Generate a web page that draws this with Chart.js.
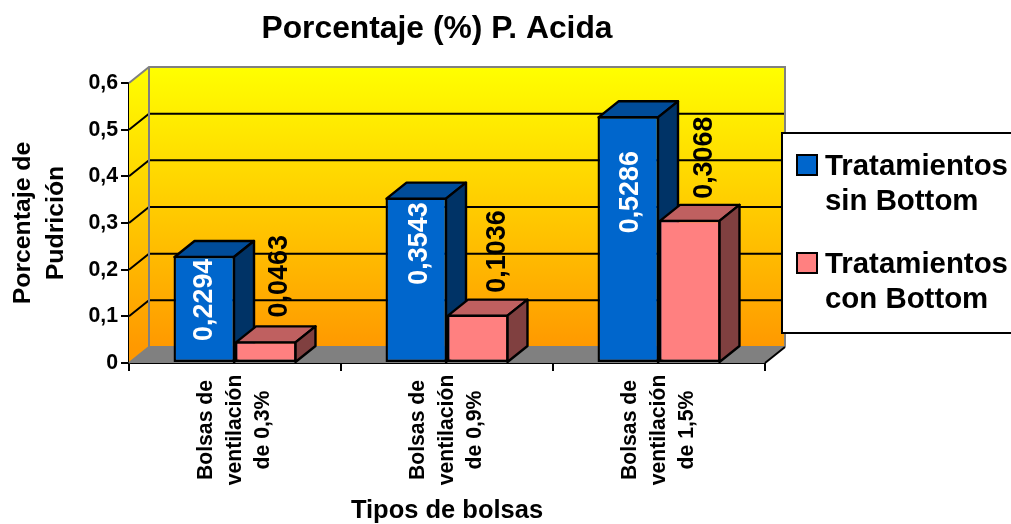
<!DOCTYPE html>
<html>
<head>
<meta charset="utf-8">
<style>
  html, body { margin: 0; padding: 0; background: #fff; }
  #wrap { width: 1011px; height: 524px; }
</style>
<script src="https://cdn.jsdelivr.net/npm/chart.js@4"></script>
</head>
<body>
<div id="wrap"><canvas id="chart"></canvas></div>
<script>
const chartTitle = 'Porcentaje (%) P. Acida';
const categories = [
  ['Bolsas de', 'ventilación', 'de 0,3%'],
  ['Bolsas de', 'ventilación', 'de 0,9%'],
  ['Bolsas de', 'ventilación', 'de 1,5%'],
];
const sinBottom = [0.2294, 0.3543, 0.5286];
const conBottom = [0.0463, 0.1036, 0.3068];
const sinLegend = ['Tratamientos', 'sin Bottom'];
const conLegend = ['Tratamientos', 'con Bottom'];
const yTitle = ['Porcentaje de', 'Pudrición'];
const xTitle = 'Tipos de bolsas';

const FONT = '"Liberation Sans", Arial, sans-serif';
const DX = 20;
const DY = 16;

// value labels were moved by hand in the original: px from the bar top and bar centre
const labelGap = [[-85, -87, -117], [24, 22, 21]];
const labelShift = [[0, 3, 2], [14, 20, 15]];

const fmt = v => String(v).replace('.', ',');

const scene3d = {
  id: 'scene3d',
  beforeDatasetsDraw(chart) {
    const { ctx, chartArea: a, scales: { y } } = chart;
    const grad = ctx.createLinearGradient(0, a.top - DY, 0, a.bottom - DY);
    grad.addColorStop(0, '#ffff00');
    grad.addColorStop(1, '#ff9900');

    ctx.save();
    // back wall + side wall
    ctx.fillStyle = grad;
    ctx.fillRect(a.left + DX, a.top - DY, a.right - a.left, a.bottom - a.top);
    ctx.beginPath();
    ctx.moveTo(a.left, a.top);
    ctx.lineTo(a.left + DX, a.top - DY);
    ctx.lineTo(a.left + DX, a.bottom - DY);
    ctx.lineTo(a.left, a.bottom);
    ctx.closePath();
    ctx.fill();

    // floor
    ctx.fillStyle = '#808080';
    ctx.beginPath();
    ctx.moveTo(a.left, a.bottom);
    ctx.lineTo(a.left + DX, a.bottom - DY);
    ctx.lineTo(a.right + DX, a.bottom - DY);
    ctx.lineTo(a.right, a.bottom);
    ctx.closePath();
    ctx.fill();

    // grid lines, one per tick
    ctx.strokeStyle = '#000';
    ctx.lineWidth = 2;
    y.ticks.forEach(t => {
      if (t.value === 0 || t.value >= 0.6) return;
      const py = y.getPixelForValue(t.value);
      ctx.beginPath();
      ctx.moveTo(a.left, py);
      ctx.lineTo(a.left + DX, py - DY);
      ctx.lineTo(a.right + DX, py - DY);
      ctx.stroke();
    });

    // wall outline
    ctx.strokeStyle = '#808080';
    ctx.beginPath();
    ctx.moveTo(a.left, a.top);
    ctx.lineTo(a.left + DX, a.top - DY);
    ctx.lineTo(a.right + DX, a.top - DY);
    ctx.lineTo(a.right + DX, a.bottom - DY);
    ctx.moveTo(a.left + DX, a.top - DY);
    ctx.lineTo(a.left + DX, a.bottom - DY);
    ctx.lineTo(a.right + DX, a.bottom - DY);
    ctx.moveTo(a.left, a.bottom);
    ctx.lineTo(a.left + DX, a.bottom - DY);
    ctx.stroke();

    // floor edge
    ctx.strokeStyle = '#000';
    ctx.beginPath();
    ctx.moveTo(a.right, a.bottom);
    ctx.lineTo(a.right + DX, a.bottom - DY);
    ctx.stroke();

    // bar tops and sides go under every front face
    ctx.lineWidth = 2.4;
    ctx.lineJoin = 'round';
    chart.data.datasets.forEach((ds, i) => {
      chart.getDatasetMeta(i).data.forEach(bar => {
        const l = bar.x - bar.width / 2 + 1;
        const r = bar.x + bar.width / 2 - 1;
        const t = bar.y + 1;
        const b = bar.base;
        ctx.fillStyle = ds.topColor;
        ctx.beginPath();
        ctx.moveTo(l, t);
        ctx.lineTo(l + DX, t - DY);
        ctx.lineTo(r + DX, t - DY);
        ctx.lineTo(r, t);
        ctx.closePath();
        ctx.fill();
        ctx.stroke();
        ctx.fillStyle = ds.sideColor;
        ctx.beginPath();
        ctx.moveTo(r, t);
        ctx.lineTo(r + DX, t - DY);
        ctx.lineTo(r + DX, b - DY);
        ctx.lineTo(r, b);
        ctx.closePath();
        ctx.fill();
        ctx.stroke();
      });
    });
    ctx.restore();
  },
  afterDraw(chart) {
    const { ctx, scales: { x } } = chart;
    ctx.save();
    ctx.fillStyle = '#000';

    // title
    ctx.font = `bold 31.8px ${FONT}`;
    ctx.textAlign = 'center';
    ctx.fillText(chartTitle, 437, 38);

    // category labels, each line centred on the same height
    ctx.font = `bold 21.2px ${FONT}`;
    ctx.textBaseline = 'middle';
    categories.forEach((lines, i) => {
      lines.forEach((s, k) => {
        ctx.save();
        ctx.translate(x.getPixelForValue(i) + (k - 1) * 28.5, 430);
        ctx.rotate(-Math.PI / 2);
        ctx.fillText(s, 0, 0);
        ctx.restore();
      });
    });

    // value labels
    ctx.font = `bold 26.9px ${FONT}`;
    ctx.textAlign = 'left';
    chart.data.datasets.forEach((ds, i) => {
      chart.getDatasetMeta(i).data.forEach((bar, j) => {
        ctx.save();
        ctx.translate(bar.x + labelShift[i][j], bar.y - labelGap[i][j]);
        ctx.rotate(-Math.PI / 2);
        ctx.fillStyle = i === 0 ? '#fff' : '#000';
        ctx.fillText(fmt(ds.data[j]), 0, 0);
        ctx.restore();
      });
    });

    // legend
    ctx.textBaseline = 'alphabetic';
    ctx.fillStyle = '#fff';
    ctx.strokeStyle = '#000';
    ctx.lineWidth = 2;
    ctx.fillRect(782, 133, 229, 200);
    ctx.strokeRect(782, 133, 240, 200);
    ctx.font = `bold 29.4px ${FONT}`;
    [[sinLegend, 0], [conLegend, 1]].forEach(([lines, i]) => {
      const ds = chart.data.datasets[i];
      const top = 155 + i * 98;
      ctx.fillStyle = ds.backgroundColor;
      ctx.fillRect(797, top, 20, 20);
      ctx.strokeRect(797, top, 20, 20);
      ctx.fillStyle = '#000';
      lines.forEach((s, k) => ctx.fillText(s, 825, top + 20 + k * 35));
    });
    ctx.restore();
  },
};

new Chart(document.getElementById('chart'), {
  type: 'bar',
  plugins: [scene3d],
  data: {
    labels: categories,
    datasets: [
      { label: 'Tratamientos sin Bottom', data: sinBottom,
        backgroundColor: '#0066cc', topColor: '#004c99', sideColor: '#003366',
        borderColor: '#000', borderWidth: 2.4, borderSkipped: false },
      { label: 'Tratamientos con Bottom', data: conBottom,
        backgroundColor: '#ff8080', topColor: '#bf6060', sideColor: '#804040',
        borderColor: '#000', borderWidth: 2.4, borderSkipped: false },
    ],
  },
  options: {
    responsive: true,
    maintainAspectRatio: false,
    animation: false,
    layout: { padding: { top: 83, right: 246, left: 0, bottom: 0 } },
    categoryPercentage: 0.58,
    barPercentage: 1,
    plugins: {
      legend: { display: false },
      title: { display: false },
      tooltip: { enabled: false },
    },
    scales: {
      x: {
        grid: { display: true, drawOnChartArea: false, drawTicks: true, color: '#000', lineWidth: 2, tickLength: 8 },
        border: { color: '#000', width: 2 },
        ticks: { display: false },
        title: { display: true, text: xTitle, color: '#000', padding: 0, font: { family: FONT, size: 25.5, weight: 'bold', lineHeight: 1 } },
        afterFit(scale) { scale.height = 161; },
      },
      y: {
        min: 0,
        max: 0.6,
        grid: { display: true, drawOnChartArea: false, drawTicks: true, color: '#000', lineWidth: 2, tickLength: 8 },
        border: { color: '#000', width: 2 },
        ticks: {
          stepSize: 0.1,
          color: '#000',
          padding: 3,
          font: { family: FONT, size: 21.3, weight: 'bold' },
          callback: v => fmt(Math.round(v * 10) / 10),
        },
        title: { display: true, text: yTitle, color: '#000', padding: { top: 7, bottom: 0 }, font: { family: FONT, size: 24.8, weight: 'bold', lineHeight: 1.32 } },
        afterFit(scale) { scale.width = 129; },
      },
    },
  },
});
</script>
</body>
</html>
